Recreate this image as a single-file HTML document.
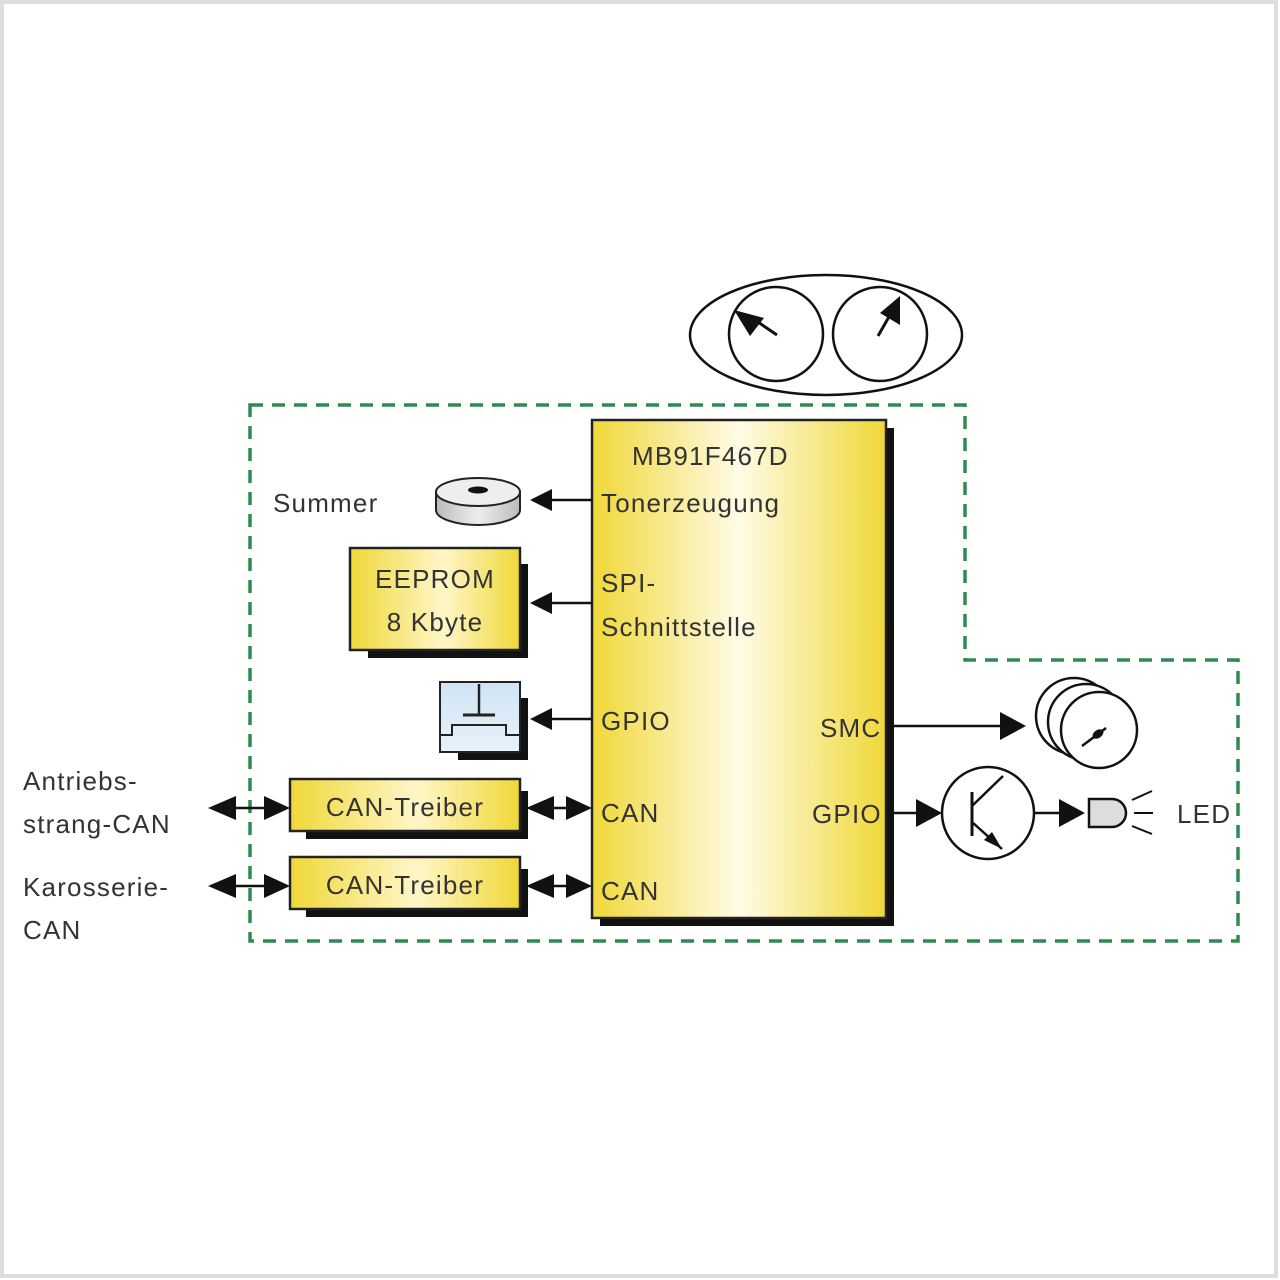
<!DOCTYPE html>
<html><head><meta charset="utf-8"><style>
html,body{margin:0;padding:0;background:#fff}
svg{display:block}
text{font-family:"Liberation Sans",sans-serif;fill:#333;font-size:26px;letter-spacing:1.2px}
</style></head><body>
<svg width="1280" height="1280" viewBox="0 0 1280 1280" xmlns="http://www.w3.org/2000/svg">
<defs>
<linearGradient id="y" x1="0" y1="0" x2="1" y2="0">
<stop offset="0" stop-color="#f0d838"/><stop offset="0.5" stop-color="#fffbe6"/><stop offset="1" stop-color="#f0d838"/>
</linearGradient>
<linearGradient id="y2" x1="0" y1="0" x2="1" y2="0">
<stop offset="0" stop-color="#f0d838"/><stop offset="0.55" stop-color="#fff6c8"/><stop offset="1" stop-color="#f0d838"/>
</linearGradient>
<linearGradient id="b" x1="0" y1="0" x2="0" y2="1">
<stop offset="0" stop-color="#cfe3f3"/><stop offset="1" stop-color="#e8f2fb"/>
</linearGradient>
<linearGradient id="g" x1="0" y1="0" x2="1" y2="0">
<stop offset="0" stop-color="#bbb"/><stop offset="0.5" stop-color="#eee"/><stop offset="1" stop-color="#bbb"/>
</linearGradient>
</defs>
<rect x="2" y="2" width="1274" height="1274" fill="none" stroke="#ddd" stroke-width="4"/>

<path d="M250 405 H965 V660 H1238 V941 H250 Z" fill="none" stroke="#2e8b4f" stroke-width="3.5" stroke-dasharray="13 9"/>

<ellipse cx="826" cy="335" rx="136" ry="60" fill="#fff" stroke="#111" stroke-width="2.5"/>
<circle cx="776" cy="334" r="47" fill="#fff" stroke="#111" stroke-width="2.5"/>
<circle cx="880" cy="334" r="47" fill="#fff" stroke="#111" stroke-width="2.5"/>
<line x1="777" y1="335" x2="752" y2="318" stroke="#111" stroke-width="3"/>
<polygon points="734,310 764,318 750,336" fill="#111"/>
<line x1="878" y1="336" x2="890" y2="315" stroke="#111" stroke-width="3"/>
<polygon points="900,296 900,325 880,313" fill="#111"/>

<rect x="600" y="428" width="294" height="498" fill="#111"/>
<rect x="592" y="420" width="294" height="498" fill="url(#y)" stroke="#222" stroke-width="2.5"/>
<text x="632" y="465">MB91F467D</text>
<text x="601" y="512">Tonerzeugung</text>
<text x="601" y="592">SPI-</text>
<text x="601" y="636">Schnittstelle</text>
<text x="601" y="730">GPIO</text>
<text x="820" y="737">SMC</text>
<text x="601" y="822">CAN</text>
<text x="812" y="823">GPIO</text>
<text x="601" y="900">CAN</text>

<text x="273" y="512">Summer</text>
<path d="M436 492 V510 A42 15 0 0 0 520 510 V492" fill="url(#g)" stroke="#222" stroke-width="2"/>
<ellipse cx="478" cy="492" rx="42" ry="14" fill="#eee" stroke="#222" stroke-width="2"/>
<ellipse cx="478" cy="490" rx="10" ry="3.5" fill="#111"/>
<line x1="592" y1="500" x2="550" y2="500" stroke="#111" stroke-width="2.5"/>
<polygon points="530,500 552,489 552,511" fill="#111"/>

<rect x="368" y="564" width="160" height="94" fill="#111"/>
<rect x="350" y="548" width="170" height="102" fill="url(#y2)" stroke="#222" stroke-width="2.5"/>
<text x="435" y="588" text-anchor="middle">EEPROM</text>
<text x="435" y="631" text-anchor="middle">8 Kbyte</text>
<line x1="592" y1="603" x2="550" y2="603" stroke="#111" stroke-width="2.5"/>
<polygon points="530,603 552,592 552,614" fill="#111"/>

<rect x="458" y="698" width="70" height="62" fill="#111"/>
<rect x="440" y="682" width="80" height="70" fill="url(#b)" stroke="#222" stroke-width="2"/>
<line x1="479" y1="684" x2="479" y2="714" stroke="#222" stroke-width="2.5"/>
<line x1="463" y1="715" x2="495" y2="715" stroke="#222" stroke-width="3"/>
<path d="M440 735 H452 V725 H506 V735 H520" fill="none" stroke="#222" stroke-width="2"/>
<line x1="592" y1="719" x2="550" y2="719" stroke="#111" stroke-width="2.5"/>
<polygon points="530,719 552,708 552,730" fill="#111"/>

<rect x="306" y="791" width="222" height="48" fill="#111"/>
<rect x="290" y="779" width="230" height="52" fill="url(#y2)" stroke="#222" stroke-width="2.5"/>
<text x="405" y="816" text-anchor="middle">CAN-Treiber</text>
<rect x="306" y="869" width="222" height="48" fill="#111"/>
<rect x="290" y="857" width="230" height="52" fill="url(#y2)" stroke="#222" stroke-width="2.5"/>
<text x="405" y="894" text-anchor="middle">CAN-Treiber</text>

<g fill="#111" stroke="#111" stroke-width="2.5">
<line x1="220" y1="808" x2="280" y2="808"/>
<polygon points="208,808 236,796 236,820" stroke="none"/>
<polygon points="290,808 264,796 264,820" stroke="none"/>
<line x1="220" y1="886" x2="280" y2="886"/>
<polygon points="208,886 236,874 236,898" stroke="none"/>
<polygon points="290,886 264,874 264,898" stroke="none"/>
<line x1="535" y1="808" x2="585" y2="808"/>
<polygon points="526,808 554,796 554,820" stroke="none"/>
<polygon points="592,808 566,796 566,820" stroke="none"/>
<line x1="535" y1="886" x2="585" y2="886"/>
<polygon points="526,886 554,874 554,898" stroke="none"/>
<polygon points="592,886 566,874 566,898" stroke="none"/>
</g>
<text x="23" y="790">Antriebs-</text>
<text x="23" y="833">strang-CAN</text>
<text x="23" y="896">Karosserie-</text>
<text x="23" y="939">CAN</text>

<line x1="886" y1="726" x2="1005" y2="726" stroke="#111" stroke-width="2.5"/>
<polygon points="1026,726 1000,712 1000,740" fill="#111"/>
<circle cx="1074" cy="716" r="38" fill="#fff" stroke="#111" stroke-width="2.5"/>
<circle cx="1086" cy="722" r="38" fill="#fff" stroke="#111" stroke-width="2.5"/>
<circle cx="1099" cy="730" r="38" fill="#fff" stroke="#111" stroke-width="2.5"/>
<line x1="1082" y1="746" x2="1106" y2="728" stroke="#111" stroke-width="2.5"/>
<ellipse cx="1098" cy="734" rx="6" ry="4" fill="#111" transform="rotate(-35 1098 734)"/>

<line x1="886" y1="813" x2="925" y2="813" stroke="#111" stroke-width="2.5"/>
<polygon points="942,813 916,799 916,827" fill="#111"/>
<circle cx="988" cy="813" r="46" fill="#fff" stroke="#111" stroke-width="2.5"/>
<line x1="972" y1="792" x2="972" y2="836" stroke="#111" stroke-width="3"/>
<line x1="972" y1="806" x2="1003" y2="776" stroke="#111" stroke-width="2.5"/>
<line x1="972" y1="822" x2="1002" y2="849" stroke="#111" stroke-width="2.5"/>
<polygon points="1002,849 984,840 992,832" fill="#111"/>
<line x1="1034" y1="813" x2="1065" y2="813" stroke="#111" stroke-width="2.5"/>
<polygon points="1085,813 1059,799 1059,827" fill="#111"/>
<path d="M1089 799 H1112 A14 14 0 0 1 1112 827 H1089 Z" fill="#ddd" stroke="#111" stroke-width="2.5"/>
<line x1="1132" y1="800" x2="1152" y2="791" stroke="#111" stroke-width="2"/>
<line x1="1134" y1="813" x2="1153" y2="813" stroke="#111" stroke-width="2"/>
<line x1="1132" y1="826" x2="1152" y2="834" stroke="#111" stroke-width="2"/>
<text x="1177" y="823">LED</text>
</svg>
</body></html>
